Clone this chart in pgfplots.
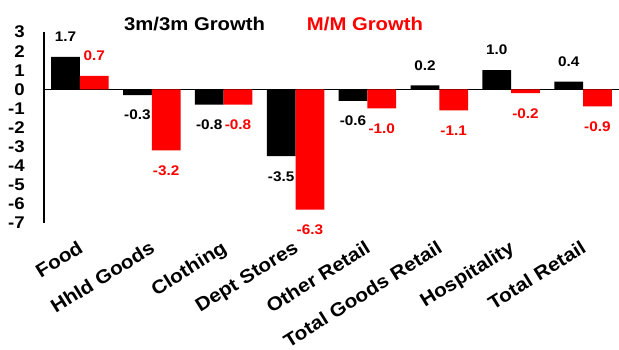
\documentclass[border=0pt]{standalone}
\usepackage{pgfplots}
\pgfplotsset{compat=1.18}
\usepackage{fontspec}
\setmainfont{Liberation Sans}[FakeStretch=1.1]
\definecolor{myred}{RGB}{255,0,0}
\begin{document}
\begin{tikzpicture}
\useasboundingbox (-44bp,-127bp) rectangle (575bp,223bp);
\begin{axis}[
 scale only axis, width=575bp, height=191bp,
 at={(0,0)}, anchor=south west,
 xmin=-0.5, xmax=7.5, ymin=-7, ymax=3,
 axis lines*=left,
 x axis line style={draw=none},
 y axis line style={line width=1.3pt},
 xtick={0,...,7},
 xticklabels={Food, Hhld Goods, Clothing, Dept Stores, Other Retail, Total Goods Retail, Hospitality, Total Retail},
 ytick={-7,...,3},
 major tick length=0pt,
 /pgf/number format/assume math mode=true,
 xticklabel style={font=\bfseries\fontsize{19}{19}\selectfont, xshift=-3bp, yshift=-16.5bp, rotate=32, anchor=north east, inner sep=0pt},
 yticklabel style={font=\bfseries\fontsize{17}{17}\selectfont, anchor=east, inner sep=0pt, xshift=-19bp},
 extra y ticks={0}, extra y tick labels={},
 extra y tick style={grid=major, major grid style={black, line width=1.3pt}},
 ybar=0pt, bar width=28.75bp,
 nodes near coords={\pgfmathprintnumber[fixed,fixed zerofill,precision=1,assume math mode=true]{\pgfplotspointmeta}},
 nodes near coords align=vertical,
 every node near coord/.append style={font=\bfseries\fontsize{14}{14}\selectfont, inner ysep=15bp, inner xsep=0pt},
 legend image code/.code={},
 legend style={draw=none, fill=none, at={(axis description cs:0,1)}, anchor=west, xshift=75bp, yshift=7bp,
   legend columns=2, font=\bfseries\fontsize{18.5}{18.5}\selectfont,
   /tikz/every even column/.append style={column sep=38bp}},
]
\addplot[fill=black, draw=none, every node near coord/.append style={text=black}] coordinates {
 (0,1.7) (1,-0.3) (2,-0.8) (3,-3.5) (4,-0.6) (5,0.2) (6,1.0) (7,0.4)};
\addlegendentry{\textcolor{black}{3m/3m Growth}}
\addplot[fill=myred, draw=none, every node near coord/.append style={text=myred}] coordinates {
 (0,0.7) (1,-3.2) (2,-0.8) (3,-6.3) (4,-1.0) (5,-1.1) (6,-0.2) (7,-0.9)};
\addlegendentry{\textcolor{myred}{M/M Growth}}
\end{axis}
\end{tikzpicture}
\end{document}
